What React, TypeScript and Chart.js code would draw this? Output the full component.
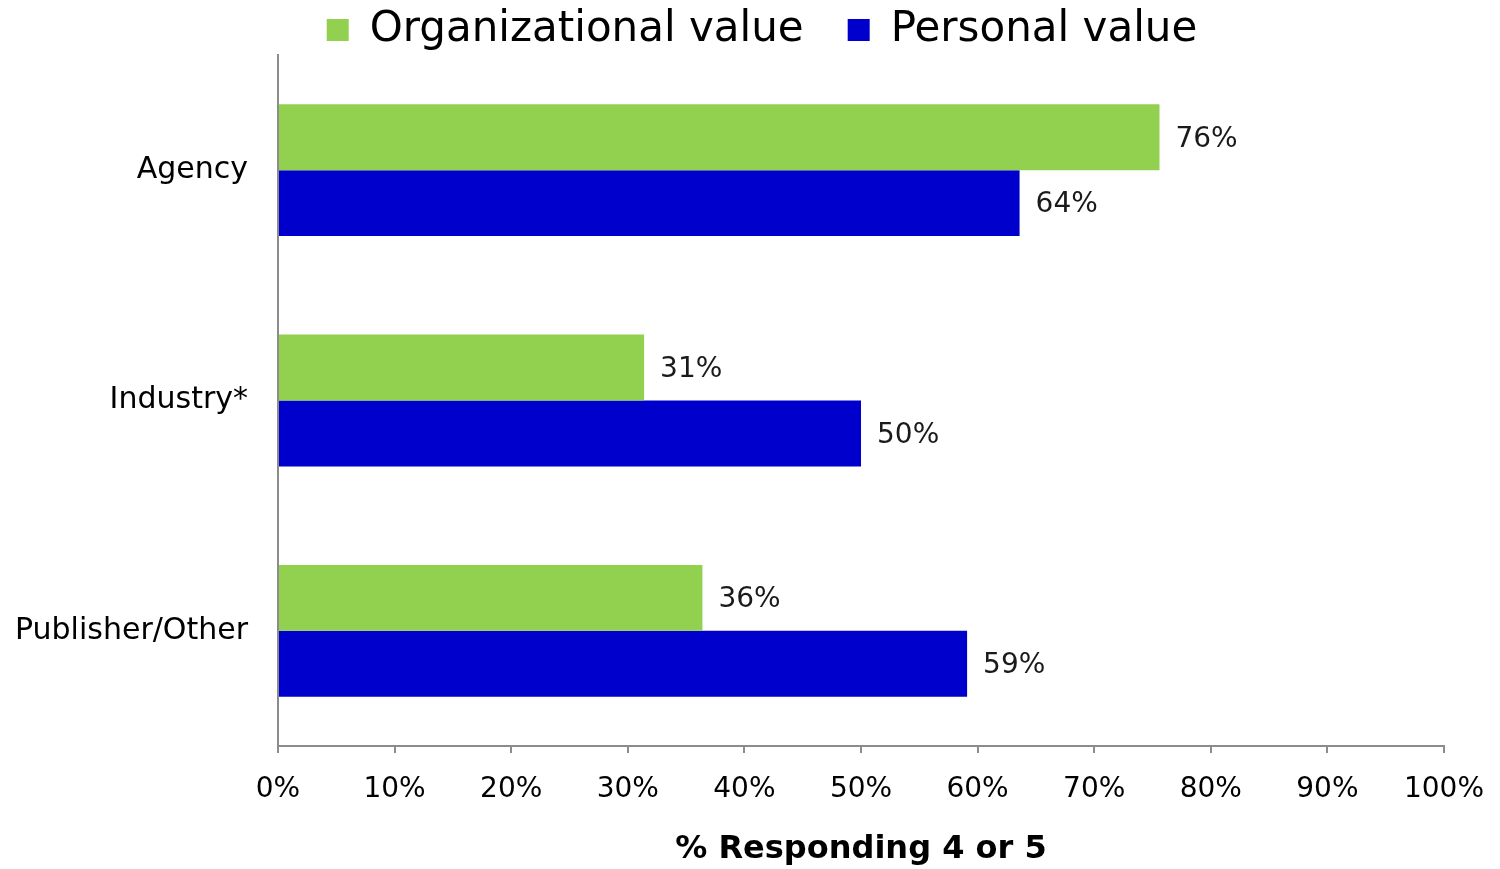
import React, { useEffect, useRef } from "react";
import { Chart, registerables } from "chart.js";

Chart.register(...registerables);

const categories = ["Agency", "Industry*", "Publisher/Other"];
const orgValues = [75.6, 31.4, 36.4];
const personalValues = [63.6, 50.0, 59.1];
const orgLabels = ["76%", "31%", "36%"];
const personalLabels = ["64%", "50%", "59%"];
const seriesNames = ["Organizational value", "Personal value"];
const xTicks = [0, 10, 20, 30, 40, 50, 60, 70, 80, 90, 100];

const FONT = "'DejaVu Sans', sans-serif";

const labelPlugin = {
  id: "barLabels",
  beforeLayout(chart: any) {
    const lg = chart.legend;
    if (lg && !lg._trimmed) {
      const orig = lg.fit.bind(lg);
      lg.fit = function () {
        orig();
        this.height -= 6;
      };
      lg._trimmed = true;
    }
  },
  afterDatasetsDraw(chart: any) {
    const ctx = chart.ctx;
    const texts = [orgLabels, personalLabels];
    ctx.save();
    ctx.font = `28px ${FONT}`;
    ctx.fillStyle = "#1a1a1a";
    ctx.textAlign = "left";
    ctx.textBaseline = "middle";
    chart.data.datasets.forEach((_ds: any, di: number) => {
      const meta = chart.getDatasetMeta(di);
      meta.data.forEach((bar: any, i: number) => {
        ctx.fillText(texts[di][i], bar.x + 16, bar.y + 2);
      });
    });
    ctx.restore();
  },
};

export default function App() {
  const ref = useRef<HTMLCanvasElement>(null);
  useEffect(() => {
    if (!ref.current) return;
    const chart = new Chart(ref.current, {
      type: "bar",
      data: {
        labels: categories,
        datasets: [
          {
            label: seriesNames[0],
            data: orgValues,
            backgroundColor: "#92D050",
            barPercentage: 1,
            categoryPercentage: 0.572,
          },
          {
            label: seriesNames[1],
            data: personalValues,
            backgroundColor: "#0000CC",
            barPercentage: 1,
            categoryPercentage: 0.572,
          },
        ],
      },
      options: {
        indexAxis: "y",
        animation: false,
        responsive: false,
        maintainAspectRatio: false,
        layout: { padding: { top: -35, right: 56, left: 80, bottom: 0 } },
        plugins: {
          legend: {
            position: "top",
            labels: {
              font: { family: FONT, size: 42 },
              color: "#000",
              boxWidth: 22,
              boxHeight: 22,
              padding: 44,
              useBorderRadius: false,
            },
          },
          tooltip: { enabled: false },
        },
        scales: {
          x: {
            min: 0,
            max: 100,
            afterBuildTicks(scale: any) {
              scale.ticks = xTicks.map((v) => ({ value: v }));
            },
            ticks: {
              callback: (v: any) => `${v}%`,
              font: { family: FONT, size: 28 },
              color: "#000",
              padding: 20,
              maxRotation: 0,
            },
            grid: {
              drawOnChartArea: false,
              drawTicks: true,
              tickLength: 7,
              color: "#8c8c8c",
              lineWidth: 2,
            },
            border: { display: true, color: "#8c8c8c", width: 2 },
            title: {
              display: true,
              text: "% Responding 4 or 5",
              font: { family: FONT, size: 32, weight: "bold" },
              color: "#000",
              padding: { top: 20, bottom: 0 },
            },
            afterFit(scale: any) {
              scale.height = 123;
              scale.paddingRight = 0;
              scale.paddingLeft = 0;
            },
          },
          y: {
            grid: { display: false },
            border: { display: true, color: "#8c8c8c", width: 2 },
            ticks: {
              font: { family: FONT, size: 30 },
              color: "#000",
              padding: 22,
            },
            afterFit(scale: any) {
              scale.width = 198;
              scale._computeLabelArea = () => undefined;
            },
          },
        },
      },
      plugins: [labelPlugin],
    });
    return () => chart.destroy();
  }, []);
  return (
    <div style={{ position: "fixed", left: 0, top: 0, width: 1500, height: 869, background: "#fff" }}>
      <canvas ref={ref} width={1500} height={869} style={{ width: 1500, height: 869 }} />
    </div>
  );
}
